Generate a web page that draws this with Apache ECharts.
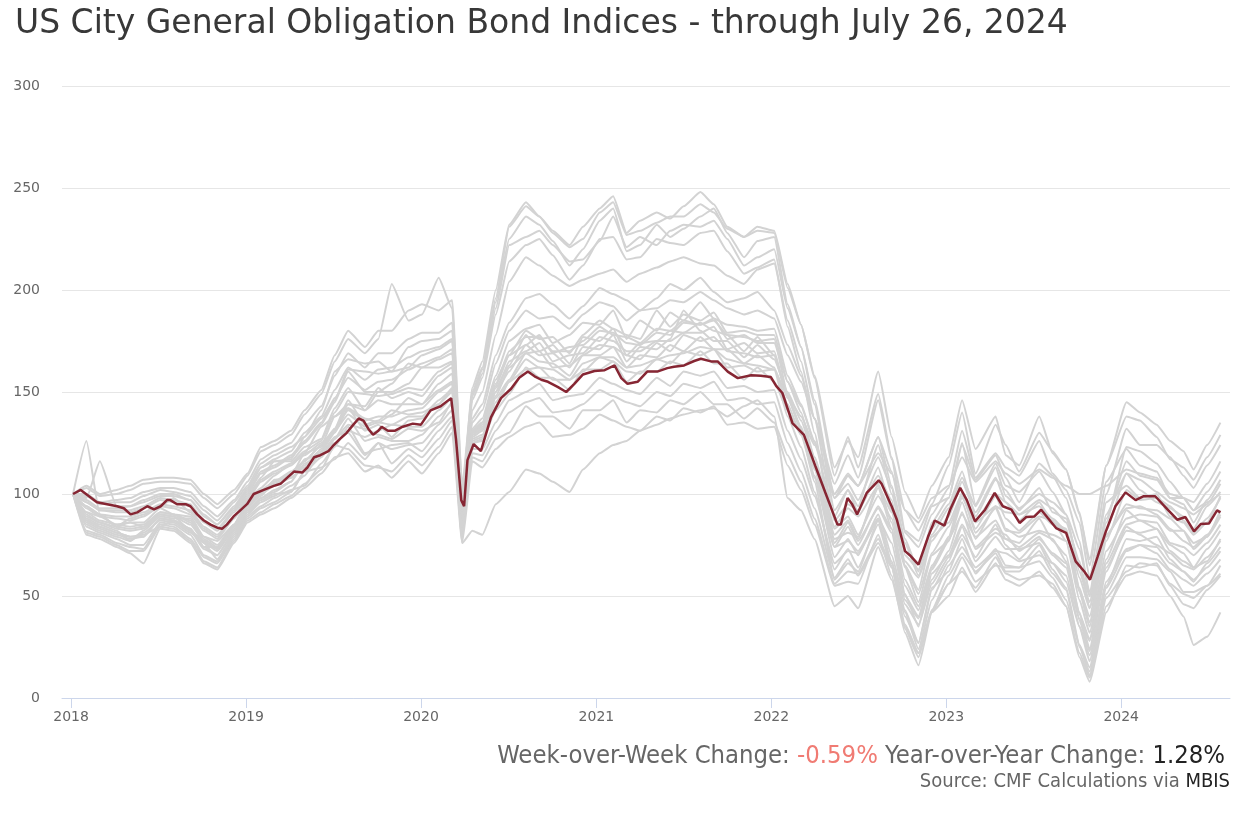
<!DOCTYPE html>
<html><head><meta charset="utf-8">
<script src="https://cdn.jsdelivr.net/npm/echarts@6/dist/echarts.min.js"></script>
<style>html,body{margin:0;padding:0;background:#fff}#chart{width:1246px;height:826px}</style>
</head><body><div id="chart"></div>
<script>
// ---- sampling dates for the individual city indices ----
const greyDates = ['2018-01-05','2018-02-02','2018-03-02','2018-04-06','2018-05-04','2018-06-01','2018-07-06','2018-08-03','2018-09-07','2018-10-05','2018-11-02','2018-12-07',
'2019-01-04','2019-02-01','2019-03-01','2019-04-05','2019-05-03','2019-06-07','2019-07-05','2019-08-02','2019-09-06','2019-10-04','2019-11-01','2019-12-06',
'2020-01-03','2020-02-07','2020-03-06','2020-03-27','2020-04-17','2020-05-08','2020-06-05','2020-07-03','2020-08-07','2020-09-04','2020-10-02','2020-11-06','2020-12-04',
'2021-01-08','2021-02-05','2021-03-05','2021-04-02','2021-05-07','2021-06-04','2021-07-02','2021-08-06','2021-09-03','2021-10-01','2021-11-05','2021-12-03',
'2022-01-07','2022-02-04','2022-03-04','2022-04-01','2022-05-13','2022-06-10','2022-07-01','2022-08-12','2022-09-09','2022-10-07','2022-11-04','2022-12-02',
'2023-01-06','2023-02-03','2023-03-03','2023-04-14','2023-05-05','2023-06-02','2023-07-14','2023-08-11','2023-09-08','2023-10-06','2023-10-27','2023-12-01',
'2024-01-12','2024-02-09','2024-03-15','2024-04-12','2024-05-10','2024-05-31','2024-06-28','2024-07-26'];

// ---- city index values (grey lines), one row per year ----
const city01 = [100,99,95,96,96,99,102,101,99,92,87,96, 104,115,119,123,128,141,160,166,164,165,160,172, 175,176,180,98,152,165,200,232,243,236,229,222,231, 240,246,228,234,238,235,241,248,242,231,226,231, 229,203,183,157,109,128,113,149,118,92,82,95, 114,140,110,134,124,111,130,121,112,91,65,114, 145,140,134,126,121,112,124,135];
const city02 = [100,96,92,91,91,93,97,96,94,86,82,91, 100,110,113,118,125,134,145,160,150,150,154,164, 162,166,169,94,149,161,194,225,236,232,224,212,220, 234,240,219,222,232,226,230,236,240,228,216,224, 226,193,172,144,92,102,94,124,100,76,60,80, 93,108,94,113,99,93,100,96,90,62,47,90, 110,102,96,93,89,83,94,101];
const city03 = [100,103,99,100,102,105,106,106,105,98,93,100, 109,121,124,129,139,149,165,176,169,176,203,185, 188,206,191,102,148,159,191,222,226,229,222,214,215, 224,236,221,226,222,229,232,231,234,225,212,216, 220,191,172,146,98,109,104,128,104,78,62,86, 98,124,107,119,108,96,115,109,98,77,50,100, 132,124,124,118,109,103,114,124];
const city04 = [100,93,89,88,87,89,94,93,90,82,78,88, 97,106,110,114,120,133,138,144,143,152,147,150, 148,158,162,91,146,157,188,214,222,225,217,205,212, 225,226,215,216,225,223,222,228,229,219,208,211, 215,182,160,130,76,86,77,93,81,50,40,63, 77,96,78,94,83,79,82,80,77,48,32,72, 88,90,89,82,82,73,79,89];
const city05 = [100,104,100,102,104,107,108,108,107,100,95,102, 110,123,126,131,141,151,168,180,172,180,180,190, 193,190,195,104,150,162,196,231,241,236,228,221,225, 238,243,227,229,233,236,236,242,238,230,226,229, 228,201,183,158,113,126,118,160,128,101,88,104, 118,146,122,138,119,114,138,120,112,90,68,114, 138,136,128,117,113,107,118,129];
const city06 = [100,97,93,93,94,96,99,99,97,89,85,93, 102,113,116,117,128,137,146,161,160,159,160,162, 168,171,175,96,141,150,178,204,216,212,207,202,205, 208,210,204,208,211,214,216,213,212,207,203,210, 213,185,165,137,87,95,92,109,97,65,53,79, 86,100,87,100,96,87,96,86,83,59,44,82, 110,107,101,96,93,90,95,105];
const city07 = [100,90,86,84,86,84,90,89,82,77,73,84, 94,101,105,109,120,123,132,146,134,136,141,139, 140,144,152,87,137,144,168,184,196,198,193,186,192, 201,198,195,190,196,203,200,206,199,194,196,199, 190,173,158,137,100,109,104,128,111,81,74,90, 103,131,108,120,113,109,126,110,102,86,59,106, 122,114,111,98,98,92,101,111];
const city08 = [100,94,90,89,89,91,95,94,92,84,80,89, 99,108,116,116,123,127,142,152,141,150,150,154, 162,162,165,93,135,141,164,180,190,186,187,181,188, 194,192,185,190,191,195,194,199,195,191,188,190, 186,168,155,137,105,119,108,146,117,82,77,94, 98,125,95,115,104,101,111,101,90,73,52,96, 104,98,100,89,86,80,86,99];
const city09 = [100,91,87,85,84,85,91,90,87,79,75,85, 95,99,106,111,116,124,138,142,137,135,139,147, 144,151,155,89,132,137,158,175,181,183,174,178,184, 183,190,176,185,180,189,185,194,186,183,182,180, 181,158,144,125,89,102,91,113,92,67,59,77, 89,106,91,108,96,90,97,93,86,67,44,86, 123,121,115,106,98,96,105,116];
const city10 = [100,98,116,94,94,97,100,100,97,90,85,94, 103,113,117,121,130,138,151,162,156,161,162,167, 170,172,176,97,131,135,156,168,180,176,177,169,178, 185,181,178,176,190,182,188,185,189,179,180,178, 178,155,140,118,80,87,78,105,86,58,45,64, 79,101,81,93,82,81,89,87,77,52,35,79, 95,93,92,88,82,76,79,92];
const city11 = [100,87,84,81,79,80,84,87,83,74,74,82, 92,98,102,106,117,120,128,131,128,131,134,133, 133,141,147,84,130,134,153,168,173,178,169,172,173, 180,179,174,173,179,178,184,183,186,176,178,174, 174,155,143,126,98,105,97,118,103,70,63,83, 95,111,89,107,102,92,103,91,88,65,50,88, 116,109,107,98,95,86,97,107];
const city12 = [100,91,89,85,86,86,93,90,89,79,77,85, 97,103,109,115,119,125,131,144,141,146,144,144, 144,154,159,90,130,133,152,163,178,170,173,164,177, 175,181,168,174,175,180,179,184,180,178,170,177, 168,148,132,109,69,78,70,90,70,46,36,56, 69,80,69,85,75,68,78,71,66,38,23,62, 84,80,75,71,65,63,69,77];
const city13 = [100,85,82,79,77,81,87,86,81,76,68,80, 90,96,99,104,109,121,125,130,119,125,122,124, 125,134,141,82,129,132,150,160,173,168,169,162,172, 171,178,165,172,171,176,190,180,175,175,167,173, 166,150,136,118,84,93,89,104,91,65,51,71, 84,98,86,94,91,90,94,88,82,53,40,80, 93,94,90,83,77,74,80,90];
const city14 = [100,100,96,97,98,101,103,103,101,94,89,97, 106,117,121,125,134,143,158,169,162,169,169,176, 179,179,184,99,128,131,148,162,169,170,162,163,168, 173,172,168,166,174,170,178,175,177,170,169,167, 168,147,133,113,78,81,79,103,83,55,43,65, 78,90,79,87,78,76,88,77,70,41,29,68, 92,87,86,76,74,70,76,85];
const city15 = [100,88,85,82,77,82,89,88,88,76,72,83, 93,100,107,108,113,121,130,142,131,134,128,136, 137,144,150,86,127,129,147,156,169,165,164,158,168, 168,172,162,168,167,173,170,177,171,171,164,168, 162,144,129,108,74,77,72,88,76,48,39,58, 72,91,73,81,78,74,81,78,67,42,24,66, 85,87,83,75,71,64,73,82];
const city16 = [100,96,92,92,92,94,98,97,95,87,83,92, 101,111,114,119,126,135,147,157,151,155,156,161, 164,167,171,95,126,128,145,155,166,162,161,156,164, 167,167,162,163,166,168,169,172,171,166,164,163, 161,148,138,124,100,110,104,120,110,92,86,98, 104,118,106,116,110,105,112,108,104,100,100,104, 112,110,108,100,98,92,96,100];
const city17 = [100,82,80,76,74,73,85,84,78,69,66,78, 88,93,96,101,111,113,117,125,117,125,115,122, 118,127,136,79,125,127,143,155,161,162,156,156,160, 167,165,160,159,166,164,170,168,171,162,163,160, 161,138,123,101,63,73,64,85,64,40,27,54, 62,78,61,73,65,64,75,63,54,26,15,54, 72,75,74,66,62,58,64,72];
const city18 = [100,86,83,80,78,79,88,87,82,73,70,81, 91,97,100,101,111,118,127,137,126,128,126,126, 129,138,144,83,125,126,141,149,162,157,157,151,161, 161,165,155,160,160,165,163,170,164,164,156,162, 155,141,129,113,83,89,80,99,88,64,47,70, 77,99,83,99,88,82,91,85,82,54,37,77, 102,97,98,94,87,81,88,98];
const city19 = [100,94,90,84,88,90,94,98,91,83,79,88, 98,107,111,115,121,126,140,150,149,148,149,152, 151,160,164,92,129,132,150,165,170,174,165,168,169, 177,175,170,170,175,175,179,179,182,171,174,169, 170,147,132,112,74,84,75,94,83,51,35,61, 70,85,74,83,80,72,79,70,64,39,28,64, 82,81,83,72,67,64,67,78];
const city20 = [100,84,81,78,75,75,86,85,80,70,67,79, 89,94,98,102,104,115,123,133,120,122,124,125, 121,131,138,80,131,135,154,170,177,177,170,170,175, 182,178,177,174,181,180,185,183,185,178,177,175, 176,149,131,106,58,66,62,87,66,42,24,48, 65,74,64,72,71,67,70,66,57,35,18,57, 73,75,71,63,58,55,61,68];
const city21 = [100,81,79,75,72,72,84,83,77,67,64,77, 87,91,95,99,105,112,124,122,114,113,111,119, 114,123,133,78,122,122,135,146,150,154,146,148,149, 157,154,151,149,157,153,160,158,160,152,153,150, 151,131,117,99,66,72,71,87,67,43,27,53, 67,84,67,79,73,73,76,66,60,35,21,55, 78,77,79,68,62,57,66,74];
const city22 = [100,126,90,84,83,84,91,90,86,78,74,85, 95,102,106,110,116,124,132,141,136,138,138,141, 142,150,154,88,120,119,131,140,145,147,140,141,144, 151,148,145,143,150,148,154,152,155,146,147,144, 145,125,111,93,59,68,60,76,64,36,22,43, 60,71,62,71,62,62,72,61,53,25,13,51, 69,69,68,62,52,52,55,65];
const city23 = [100,87,84,81,79,79,88,87,83,74,70,82, 92,98,101,106,115,119,127,134,132,129,127,132, 131,135,145,84,118,116,127,130,143,138,138,132,141, 141,146,135,141,140,146,144,150,144,144,137,142, 135,119,106,88,56,62,61,78,65,34,20,43, 56,69,57,65,64,64,67,59,48,26,11,49, 62,66,65,56,51,49,55,61];
const city24 = [100,80,78,74,71,66,83,82,76,66,63,76, 86,90,93,98,103,110,118,120,111,114,108,116, 110,120,130,76,116,113,122,128,133,135,128,129,132, 139,136,133,131,138,136,142,140,143,134,135,132, 133,114,102,85,55,57,56,80,60,32,16,42, 56,62,54,69,61,58,60,56,45,20,8,42, 65,64,66,55,46,44,53,60];
const city25 = [100,89,86,83,82,83,90,89,85,77,73,84, 94,100,104,108,114,122,131,139,133,135,134,138, 138,146,151,76,82,80,95,101,112,110,106,101,112, 120,124,126,131,134,137,139,141,142,138,143,146, 138,98,92,78,45,50,44,74,58,35,22,42, 50,64,52,66,58,55,62,54,45,22,10,45, 60,62,60,50,40,26,30,42];

// ---- composite index (dark red line) ----
const redDates = ['2018-01-05','2018-01-21','2018-02-24','2018-03-17','2018-04-07','2018-04-21','2018-05-05','2018-05-19','2018-06-02','2018-06-09','2018-06-23','2018-07-07','2018-07-20','2018-07-27','2018-08-10','2018-08-28','2018-09-07','2018-09-21','2018-10-05','2018-10-19','2018-11-02','2018-11-12','2018-11-22','2018-12-06','2018-12-20',
'2019-01-03','2019-01-17','2019-02-07','2019-02-28','2019-03-14','2019-03-28','2019-04-11','2019-04-28','2019-05-09','2019-05-23','2019-06-05','2019-06-22','2019-07-03','2019-07-16','2019-07-30','2019-08-13','2019-08-24','2019-09-03','2019-09-13','2019-09-23','2019-10-04','2019-10-11','2019-10-24','2019-11-07','2019-11-24','2019-12-15',
'2020-01-01','2020-01-21','2020-02-11','2020-03-04','2020-03-14','2020-03-25','2020-03-31','2020-04-07','2020-04-20','2020-05-05','2020-05-26','2020-06-16','2020-07-07','2020-07-24','2020-08-11','2020-08-25','2020-09-08','2020-09-22','2020-10-13','2020-10-30','2020-11-16','2020-12-04','2020-12-28',
'2021-01-18','2021-02-08','2021-02-22','2021-03-07','2021-03-28','2021-04-17','2021-05-08','2021-05-29','2021-06-12','2021-07-03','2021-07-24','2021-08-07','2021-08-28','2021-09-11','2021-10-02','2021-10-23','2021-11-20','2021-12-10','2021-12-31',
'2022-01-11','2022-01-24','2022-02-14','2022-03-10','2022-04-03','2022-04-24','2022-05-19','2022-05-26','2022-06-09','2022-06-19','2022-06-29','2022-07-19','2022-08-13','2022-08-19','2022-09-09','2022-09-20','2022-10-07','2022-10-17','2022-11-04','2022-11-07','2022-11-24','2022-12-08','2022-12-28',
'2023-01-09','2023-01-30','2023-02-13','2023-03-02','2023-03-23','2023-04-12','2023-04-29','2023-05-17','2023-06-03','2023-06-17','2023-07-04','2023-07-18','2023-08-01','2023-08-18','2023-09-08','2023-09-28','2023-10-16','2023-10-28','2023-11-13','2023-11-30','2023-12-20',
'2024-01-10','2024-01-31','2024-02-17','2024-03-12','2024-04-06','2024-04-27','2024-05-14','2024-06-01','2024-06-15','2024-07-02','2024-07-19','2024-07-26'];
const redValues = [100,102,96,95,94,93,90,91,93,94,92.5,94,97,97,95,95,94,90,87,85,83.5,83,85,89,92,
95,100,102,104,105,108,111,110.5,113,118,119,121,124,127,130,134,137,136,132,129,131,133,131,131,133,134.5,
134,141,143,147,127,97,94,116.6,124.5,121,137.6,147,151.6,157,160,157.7,156,155,152.4,150,154,158.6,160.3,
160.7,163,156.8,154,155,160,160,161.7,162.4,163,165.2,166.3,165,165,160,156.8,158.2,158,157.3,
153,149.5,134.8,129,113.6,100.5,85,85,98,94.8,90,100.5,106.7,105,94,87.4,72,70,65.4,65,79,87,84.5,
92.3,103,97,86.6,92.3,100.5,94,92.3,85.8,88.7,89,92.3,88.2,83.3,81,67,62,58,69.4,81.7,94,
100.8,97,98.9,98.9,92.6,87.4,88.7,81.7,85.3,85.5,92,91];

// ---- axis ticks & texts ----
const yTicks = [0, 50, 100, 150, 200, 250, 300];
const titleText = 'US City General Obligation Bond Indices - through July 26, 2024';
const wowChange = '-0.59%';
const yoyChange = '1.28%';

const cityLines = [city01,city02,city03,city04,city05,city06,city07,city08,city09,city10,city11,city12,city13,
  city14,city15,city16,city17,city18,city19,city20,city21,city22,city23,city24,city25];

const chart = echarts.init(document.getElementById('chart'));
const series = cityLines.map((vals, i) => ({
  type: 'line', name: 'City ' + (i + 1),
  data: greyDates.map((d, j) => [d, vals[j]]),
  symbol: 'none', silent: true, z: 2,
  smooth: 0.15, smoothMonotone: 'x',
  lineStyle: { color: '#d3d3d3', width: 2 }
}));
series.push({
  type: 'line', name: 'Composite',
  data: redDates.map((d, j) => [d, redValues[j]]),
  symbol: 'none', z: 5,
  lineStyle: { color: '#862633', width: 2.5 }
});

chart.setOption({
  animation: false,
  backgroundColor: '#ffffff',
  title: {
    text: titleText, left: 10, top: 3,
    textStyle: { fontFamily: 'DejaVu Sans', fontSize: 33, fontWeight: 'normal', color: '#383838' }
  },
  grid: { left: 62, right: 16, top: 86, bottom: 128 },
  xAxis: {
    type: 'time', min: '2017-12-13', max: '2024-08-15',
    minInterval: 365 * 864e5, maxInterval: 366 * 864e5,
    axisLine: { lineStyle: { color: '#ccd6eb' } },
    axisTick: { show: true, length: 10, lineStyle: { color: '#ccd6eb' } },
    axisLabel: {
      color: '#666666', fontSize: 14, fontFamily: 'DejaVu Sans', margin: 12,
      formatter: (v) => String(new Date(v).getFullYear())
    },
    splitLine: { show: false }
  },
  yAxis: {
    type: 'value', min: yTicks[0], max: yTicks[yTicks.length - 1], interval: 50,
    axisLine: { show: false }, axisTick: { show: false },
    axisLabel: { color: '#666666', fontSize: 14, fontFamily: 'DejaVu Sans', margin: 22 },
    splitLine: { lineStyle: { color: '#e6e6e6' } }
  },
  series: series,
  graphic: [
    {
      type: 'text', right: 21, top: 744,
      style: {
        text: '{g|Week-over-Week Change: }{r|' + wowChange + '}{g| Year-over-Year Change: }{k|' + yoyChange + '}',
        rich: {
          g: { fontFamily: 'DejaVu Sans Condensed', fontSize: 25.4, fill: '#666666' },
          r: { fontFamily: 'DejaVu Sans Condensed', fontSize: 25.4, fill: '#f07b73' },
          k: { fontFamily: 'DejaVu Sans Condensed', fontSize: 25.4, fill: '#222222' }
        }
      }
    },
    {
      type: 'text', right: 16, top: 772,
      style: {
        text: '{g|Source: CMF Calculations via }{k|MBIS}',
        rich: {
          g: { fontFamily: 'DejaVu Sans Condensed', fontSize: 20, fill: '#666666' },
          k: { fontFamily: 'DejaVu Sans Condensed', fontSize: 20, fill: '#222222' }
        }
      }
    }
  ]
});
</script>
</body></html>
